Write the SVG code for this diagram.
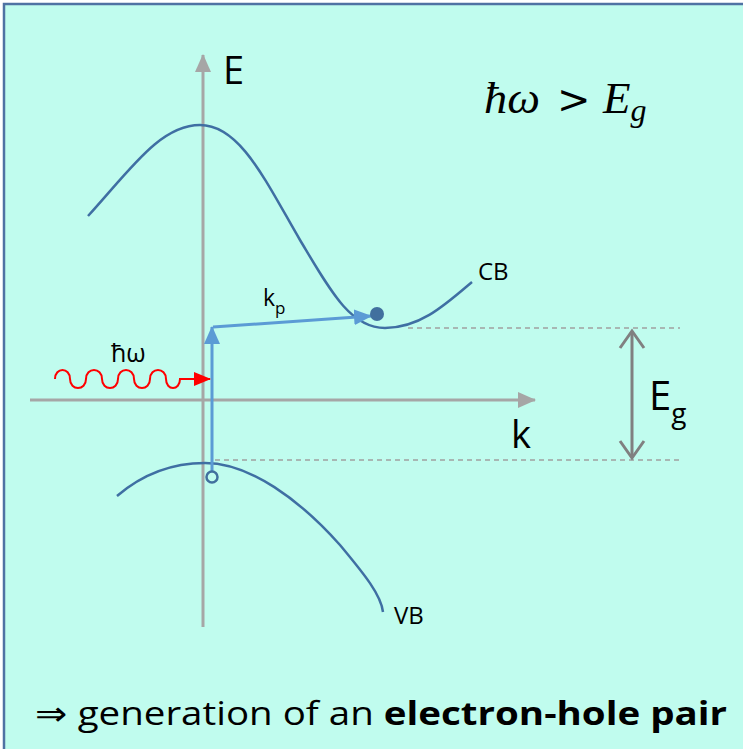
<svg xmlns="http://www.w3.org/2000/svg" width="743" height="749" viewBox="0 0 743 749">
<style>
.sans{font-family:"Open Sans","Liberation Sans",sans-serif;fill:#000}
.math{font-family:"Liberation Serif","DejaVu Serif",serif;font-style:italic;fill:#000}
.band{fill:none;stroke:#3f6fa3;stroke-width:2.5}
.axis{stroke:#a6a6a6;stroke-width:3;fill:none}
.dash{stroke:#a0a0a0;stroke-width:1.5;stroke-dasharray:5,4;fill:none}
.trans{stroke:#5b9bd5;stroke-width:3;fill:none}
.gap{stroke:#808080;stroke-width:3;fill:none}
</style>
<defs>
<marker id="axb" markerWidth="18" markerHeight="16" refX="17" refY="8" orient="auto" markerUnits="userSpaceOnUse"><path d="M0,0 L18,8 L0,16 z" fill="#a6a6a6"/></marker>
<marker id="blu" markerWidth="18" markerHeight="16" refX="17" refY="8" orient="auto" markerUnits="userSpaceOnUse"><path d="M0,0 L18,8 L0,16 z" fill="#5b9bd5"/></marker>
<marker id="red" markerWidth="17" markerHeight="14" refX="16" refY="7" orient="auto" markerUnits="userSpaceOnUse"><path d="M0,0 L17,7 L0,14 z" fill="#ff0000"/></marker>
</defs>
<rect x="4" y="4" width="750" height="760" fill="#c0fcee" stroke="#4f72a3" stroke-width="2.5"/>
<g id="axes">
<line class="axis" x1="203" y1="627" x2="203" y2="55" marker-end="url(#axb)"/>
<line class="axis" x1="30" y1="400" x2="535" y2="400" marker-end="url(#axb)"/>
<text class="sans" x="223" y="84" font-size="38">E</text>
<text class="sans" x="511" y="448" font-size="38">k</text>
</g>
<g id="cb">
<path class="band" d="M88,216 C130,170 160,125 200,125 C240,125 265,180 300,240 C330,290 350,328 385,328 C420,328 445,305 472,282"/>
<text class="sans" x="478" y="280" font-size="24">CB</text>
</g>
<g id="vb">
<path class="band" d="M117,496 C145,472 175,463 205,463 C250,463 300,500 340,545 C365,575 381,595 383,612"/>
<text class="sans" x="394" y="624" font-size="24">VB</text>
</g>
<g id="levels">
<line class="dash" x1="408" y1="328" x2="680" y2="328"/>
<line class="dash" x1="215" y1="460" x2="680" y2="460"/>
</g>
<g id="gap">
<line class="gap" x1="632" y1="332" x2="632" y2="457"/>
<polyline class="gap" points="620,348 632,331 644,348"/>
<polyline class="gap" points="620,441 632,458 644,441"/>
<text class="sans" x="649" y="410" font-size="40">E<tspan font-size="28" dy="13">g</tspan></text>
</g>
<g id="connectors">
<line class="trans" x1="212" y1="471" x2="212" y2="327" marker-end="url(#blu)"/>
<line class="trans" x1="213" y1="327" x2="371" y2="316" marker-end="url(#blu)"/>
<path d="M55,379 C55,367 70,367 70,379 C70,391 86,391 86,379 C86,367 102,367 102,379 C102,391 118,391 118,379 C118,367 134,367 134,379 C134,391 150,391 150,379 C150,367 166,367 166,379 C166,391 180,391 180,379 L210,379" fill="none" stroke="#ff0000" stroke-width="2" marker-end="url(#red)"/>
</g>
<g id="electron"><circle cx="377" cy="314" r="7" fill="#41709e"/></g>
<g id="hole"><circle cx="212" cy="477" r="5.5" fill="none" stroke="#41709e" stroke-width="2.5"/></g>
<g id="labels">
<text class="sans" x="111" y="362" font-size="25">ħω</text>
<text class="sans" x="263" y="306" font-size="23">k<tspan font-size="17" dy="8">p</tspan></text>
<text class="math" x="484" y="113" font-size="45" textLength="56" lengthAdjust="spacingAndGlyphs">ħω</text>
<text x="557" y="113" font-family="'DejaVu Serif',serif" font-size="40">&gt;</text>
<text class="math" x="603" y="113" font-size="45">E<tspan font-size="32" dy="8">g</tspan></text>
<text class="sans" x="35" y="725" font-size="33" textLength="692" lengthAdjust="spacingAndGlyphs">⇒ generation of an <tspan font-weight="bold">electron-hole pair</tspan></text>
</g>
</svg>
